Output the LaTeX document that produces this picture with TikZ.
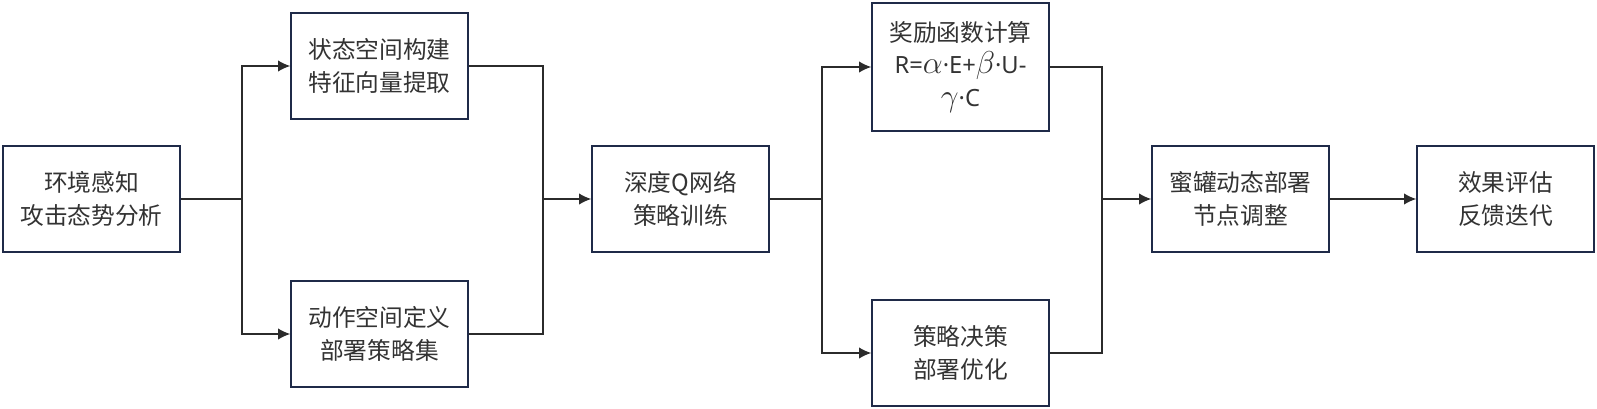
\documentclass[tikz,border=0pt]{standalone}
\usepackage{fontspec}
\setmainfont{Noto Sans CJK SC}
\newfontfamily\latinfont{Noto Sans}
\usepackage{tikz}
\usetikzlibrary{arrows.meta}
\usetikzlibrary{calc}

\definecolor{boxline}{HTML}{1F2A48}
\definecolor{wire}{HTML}{2B2B2B}
\definecolor{txt}{HTML}{333333}

\begin{document}
\begin{tikzpicture}[x=0.02cm,y=-0.02cm,
	stage/.style={draw=boxline,line width=0.8pt,fill=white,text=txt,
		minimum width=3.54cm,minimum height=2.12cm,inner sep=0pt,
		align=center,font=\fontsize{13.5}{18.5}\selectfont},
	link/.style={draw=wire,line width=0.85pt},
	arr/.style={link,-{Latex[length=7pt,width=6.5pt]}}
	]
\useasboundingbox (0,0) rectangle (1597,409);

% stages
\node[stage] (env) at (91.5,199) {环境感知\\攻击态势分析};
\node[stage] (state) at (379.5,66) {状态空间构建\\特征向量提取};
\node[stage] (act) at (379.5,334) {动作空间定义\\部署策略集};
\node[stage] (dqn) at (680.5,199) {深度Q网络\\策略训练};
\node[stage,minimum height=2.56cm] (rew) at (960.5,67) {奖励函数计算\\{\latinfont R=$\scalebox{1.25}{$\alpha$}$·E+$\scalebox{1.25}{$\beta$}$·U-}\\{\latinfont $\scalebox{1.25}{$\gamma$}$·C}};
\node[stage] (dec) at (960.5,353) {策略决策\\部署优化};
\node[stage] (pot) at (1240.5,199) {蜜罐动态部署\\节点调整};
\node[stage] (eval) at (1505.5,199) {效果评估\\反馈迭代};

% junctions
\coordinate (sp1) at (242,199);
\coordinate (mg1) at (543,199);
\coordinate (sp2) at (822,199);
\coordinate (mg2) at (1102,199);

\draw[link] (env.east) -- (sp1);
\draw[arr] (sp1) |- (state.west);
\draw[arr] (sp1) |- (act.west);

\draw[link] (state.east) -| (mg1);
\draw[link] (act.east) -| (mg1);
\draw[arr] (mg1) -- (dqn.west);

\draw[link] (dqn.east) -- (sp2);
\draw[arr] (sp2) |- (rew.west);
\draw[arr] (sp2) |- (dec.west);

\draw[link] (rew.east) -| (mg2);
\draw[link] (dec.east) -| (mg2);
\draw[arr] (mg2) -- (pot.west);

\draw[arr] (pot.east) -- (eval.west);

\end{tikzpicture}
\end{document}
